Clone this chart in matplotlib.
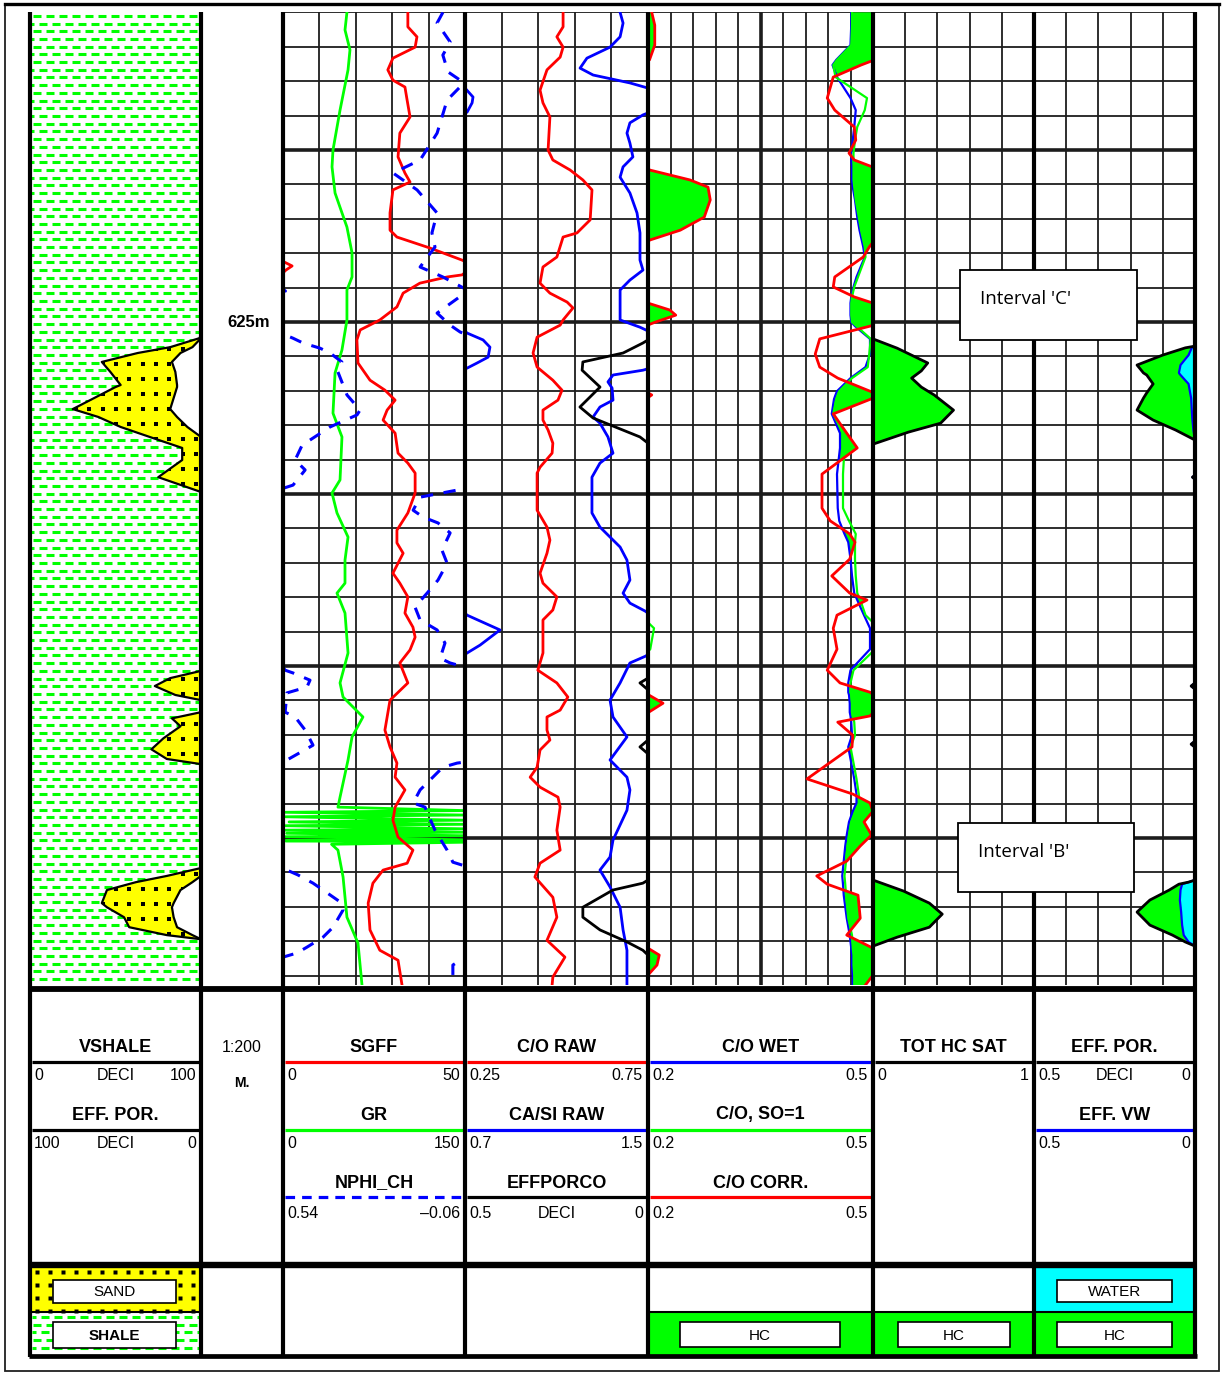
import numpy as np
import matplotlib
matplotlib.use("Agg")
import matplotlib.pyplot as plt
from matplotlib.collections import LineCollection
from matplotlib.patches import Rectangle
from matplotlib.transforms import TransformedPath

# ------------------------------------------------------------------ data
DEPTH_TOP, DEPTH_BOT = 616.0, 644.27        # metres, 1:200

# track 1: VSHALE (0..1) and EFF. POR. (1..0) on one depth grid
T1_DEPTH = np.array([616.0, 625.38, 625.47, 625.73, 625.90, 626.16, 626.45, 626.83, 626.89,
                     627.53, 627.76, 628.05, 628.34, 628.66, 629.01, 629.51, 629.94,
                     635.14, 635.35, 635.58, 635.84, 635.99,
                     636.34, 636.52, 636.75, 637.10, 637.42, 637.70, 637.85,
                     640.87, 641.10, 641.28, 641.51, 641.89, 642.01, 642.30, 642.59,
                     642.82, 642.94, 644.27])
VSHALE = np.array([1.0, 1.0, 0.99, 0.82, 0.63, 0.42, 0.47, 0.53, 0.50,
                   0.25, 0.40, 0.53, 0.70, 0.89, 0.89, 0.75, 1.0,
                   1.0, 0.82, 0.73, 0.85, 1.0,
                   1.0, 0.83, 0.88, 0.78, 0.71, 0.80, 1.0,
                   1.0, 0.80, 0.62, 0.45, 0.42, 0.45, 0.55, 0.58,
                   0.80, 1.0, 1.0])
EFF_POR_T1 = np.array([0.0, 0.0, 0.0, 0.05, 0.12, 0.17, 0.15, 0.14, 0.14,
                       0.18, 0.14, 0.08, 0.0, 0.0, 0.0, 0.0, 0.0,
                       0.0, 0.0, 0.0, 0.0, 0.0,
                       0.0, 0.0, 0.0, 0.0, 0.0, 0.0, 0.0,
                       0.0, 0.0, 0.05, 0.12, 0.16, 0.17, 0.16, 0.14,
                       0.05, 0.0, 0.0])

# track 3
GR_DEPTH = [616.0, 616.51, 617.09, 617.67, 618.84, 620.00, 620.49, 621.25, 622.24, 622.99,
            623.69, 624.07, 624.94, 625.81, 626.48, 627.65, 628.34, 629.59, 629.97, 630.55,
            631.25, 631.92, 632.59, 632.88, 633.46, 634.62, 635.49, 635.90, 636.48, 637.06,
            637.73, 638.81, 639.10, 639.20, 639.25, 639.33, 639.38, 639.48, 639.53, 639.60,
            639.64, 639.73, 639.77, 639.83, 639.86, 639.93, 639.96, 640.05, 640.08, 640.12,
            640.18, 640.35, 641.13, 642.30, 643.05, 644.27]
GR = [52.7, 51.1, 55.2, 53.6, 47.0, 41.2, 40.4, 42.9, 52.7, 56.9,
      56.9, 52.7, 52.7, 48.6, 42.9, 41.2, 48.6, 47.0, 40.4, 44.5,
      53.6, 51.1, 51.1, 44.5, 51.1, 53.6, 47.0, 49.5, 65.9, 56.9,
      53.6, 47.0, 45.3, 149, 2, 149, 2, 149, 5, 149,
      2, 149, 2, 149, 3, 149, 2, 149, 2, 149,
      40, 45.3, 49.5, 52.7, 61.8, 65.1]

SGFF_DEPTH = [616.0, 616.42, 616.71, 617.01, 617.33, 617.67, 617.97, 618.17, 618.55, 619.04,
              619.51, 620.20, 620.67, 620.93, 621.16, 621.83, 622.33, 622.53, 622.85, 623.20,
              623.28, 623.37, 623.49, 623.55, 623.63, 623.69, 623.87, 624.16, 624.56, 624.94,
              625.23, 625.52, 626.19, 626.69, 626.98, 627.27, 627.56, 627.85, 628.23, 628.81,
              629.10, 629.39, 629.97, 630.55, 631.05, 631.42, 631.72, 632.30, 632.59, 632.99,
              633.46, 633.87, 634.16, 634.53, 634.91, 635.49, 635.99, 636.86, 637.35, 637.82,
              638.23, 638.60, 639.10, 639.48, 639.97, 640.35, 640.73, 640.93, 641.31, 641.89,
              642.67, 643.26, 643.55, 644.27]
SGFF = [34.3, 34.3, 36.8, 36.3, 30.2, 28.8, 30.2, 33.5, 34.1, 34.9,
        32.1, 31.6, 33.5, 34.9, 30.2, 29.4, 29.4, 31.3, 40.4, 49.2,
        50.8, 52.5, 50.8, 50.2, 49.2, 45.1, 37.6, 33.0, 31.3, 26.6,
        21.2, 20.3, 20.6, 23.9, 28.0, 30.8, 28.6, 27.5, 30.8, 31.6,
        34.3, 36.3, 36.3, 34.3, 31.3, 31.3, 33.0, 30.2, 32.1, 34.3,
        33.5, 35.7, 36.3, 34.9, 32.1, 34.3, 29.4, 28.0, 29.4, 31.3,
        30.8, 33.5, 30.8, 30.2, 31.6, 35.7, 34.1, 27.5, 24.7, 23.4,
        23.9, 26.6, 31.6, 32.7]

NPHI_DEPTH = [616.0, 616.31, 616.86, 617.24, 617.73, 617.97, 618.11, 618.55, 619.51, 620.29,
              620.67, 621.16, 621.83, 622.41, 622.82, 623.40, 623.69, 624.01, 624.10, 624.22,
              624.74, 625.09, 625.29, 625.47, 625.61, 625.76, 625.90, 626.16, 626.45, 627.12,
              627.56, 627.70, 628.05, 628.43, 628.58, 629.01, 629.30, 629.74, 629.82, 629.88,
              630.09, 630.47, 630.67, 630.84, 631.13, 631.63, 632.01, 632.50, 632.88, 633.28,
              633.66, 633.95, 634.33, 634.77, 634.91, 635.03, 635.12, 635.20, 635.41, 635.61,
              635.78, 636.34, 636.48, 636.86, 637.30, 637.68, 637.79, 637.82, 637.94, 638.60,
              638.98, 639.10, 639.77, 640.35, 640.70, 640.81, 640.93, 641.07, 641.31, 641.51,
              641.89, 642.09, 642.59, 642.88, 643.17, 643.34, 643.46, 643.69, 644.27]
NPHI = [0.013, 0.032, -0.011, 0.013, -0.004, -0.044, -0.050, -0.001, 0.032, 0.088,
        0.177, 0.098, 0.032, 0.049, 0.039, 0.088, 0.013, -0.055, -0.068, -0.050,
        0.032, -0.011, -0.044, -0.093, -0.126, -0.182, -0.215, -0.254, -0.241, -0.271,
        -0.314, -0.304, -0.215, -0.149, -0.123, -0.100, -0.133, -0.093, -0.065, -0.037,
        0.088, 0.111, 0.078, 0.029, -0.011, 0.016, -0.001, 0.029, 0.065, 0.105,
        0.088, 0.032, 0.006, 0.022, -0.011, -0.060, -0.067, -0.093, -0.149, -0.139,
        -0.073, -0.067, -0.100, -0.133, -0.159, -0.083, -0.060, -0.034, 0.013, 0.088,
        0.111, 0.072, 0.039, -0.001, -0.020, -0.060, -0.073, -0.109, -0.159, -0.192,
        -0.254, -0.258, -0.225, -0.192, -0.139, -0.106, -0.060, -0.020, -0.020]

# track 4
CO_RAW_DEPTH = [616.0, 616.42, 616.71, 617.01, 617.30, 617.67, 618.26, 618.63, 619.04, 620.00,
                620.29, 620.58, 620.87, 621.16, 622.03, 622.41, 622.53, 623.11, 623.40, 623.87,
                624.16, 624.42, 624.59, 624.94, 625.09, 625.44, 625.90, 626.31, 626.69, 626.98,
                627.27, 627.56, 627.85, 628.14, 628.52, 628.81, 629.22, 629.39, 630.47, 630.96,
                631.34, 631.72, 632.30, 632.59, 632.99, 633.37, 633.66, 634.62, 635.12, 635.49,
                635.90, 636.28, 636.48, 636.86, 637.15, 637.44, 637.94, 638.23, 638.52, 638.81,
                639.10, 639.77, 640.35, 640.73, 641.13, 641.72, 642.30, 642.97, 643.46, 644.04,
                644.27]
CO_RAW = [0.518, 0.518, 0.501, 0.518, 0.510, 0.474, 0.455, 0.463, 0.482, 0.477,
          0.490, 0.537, 0.572, 0.597, 0.592, 0.556, 0.518, 0.501, 0.463, 0.455,
          0.482, 0.529, 0.545, 0.518, 0.510, 0.447, 0.436, 0.447, 0.490, 0.515,
          0.504, 0.463, 0.463, 0.477, 0.490, 0.488, 0.455, 0.447, 0.447, 0.474,
          0.482, 0.474, 0.455, 0.463, 0.501, 0.490, 0.463, 0.463, 0.449, 0.501,
          0.531, 0.510, 0.474, 0.474, 0.482, 0.455, 0.447, 0.428, 0.455, 0.504,
          0.510, 0.501, 0.510, 0.455, 0.441, 0.490, 0.501, 0.474, 0.523, 0.490,
          0.488]

CASI_DEPTH = [616.0, 616.31, 616.71, 617.01, 617.33, 617.62, 617.82, 618.05, 618.20, 618.46,
              618.63, 618.90, 618.98, 619.21, 619.51, 619.80, 620.20, 620.49, 620.79, 621.25,
              621.83, 622.41, 623.20, 623.49, 623.78, 624.07, 624.74, 624.94, 625.15, 625.26,
              625.32, 625.52, 625.73, 626.02, 626.19, 626.34, 626.40, 626.54, 626.74, 626.92,
              627.27, 627.47, 627.76, 627.94, 628.34, 628.81, 629.10, 629.51, 630.55, 630.96,
              631.25, 631.54, 631.92, 632.50, 632.88, 633.17, 633.40, 633.46, 633.52, 633.95,
              634.39, 634.62, 634.71, 634.91, 635.49, 635.99, 636.48, 637.06, 637.73, 638.23,
              638.60, 639.19, 640.06, 640.55, 640.93, 641.42, 642.01, 642.67, 643.26, 644.27]
CASI_RAW = [1.378, 1.391, 1.378, 1.334, 1.233, 1.203, 1.260, 1.421, 1.500, 1.535,
            1.531, 1.509, 1.478, 1.421, 1.408, 1.421, 1.434, 1.391, 1.378, 1.421,
            1.452, 1.465, 1.465, 1.478, 1.421, 1.378, 1.378, 1.378, 1.465, 1.500,
            1.509, 1.579, 1.609, 1.601, 1.553, 1.509, 1.478, 1.347, 1.325, 1.343,
            1.347, 1.290, 1.260, 1.290, 1.325, 1.347, 1.290, 1.255, 1.255, 1.290,
            1.334, 1.378, 1.408, 1.421, 1.391, 1.421, 1.487, 1.500, 1.509, 1.653,
            1.566, 1.509, 1.490, 1.421, 1.378, 1.334, 1.347, 1.408, 1.334, 1.408,
            1.421, 1.408, 1.347, 1.334, 1.290, 1.334, 1.378, 1.391, 1.408, 1.408]

EPC_DEPTH = [616.0, 625.52, 625.61, 625.90, 626.16, 626.40, 626.89, 627.47, 627.79, 628.34,
             628.52, 635.35, 635.49, 635.69, 637.15, 637.35, 637.55, 641.22, 641.31, 641.51,
             642.01, 642.30, 642.67, 643.02, 643.26, 643.40, 644.27]
EFFPORCO = [0.0, 0.0, 0.014, 0.068, 0.178, 0.180, 0.131, 0.186, 0.150, 0.022,
            0.0, 0.0, 0.022, 0.0, 0.0, 0.022, 0.0, 0.0, 0.014, 0.096,
            0.178, 0.178, 0.131, 0.057, 0.014, 0.0, 0.0]

# track 5: C/O WET, C/O SO=1, C/O CORR on one depth grid
T5_DEPTH = np.array([616.0, 616.37, 616.95, 617.38, 617.53, 617.88, 618.49, 618.84, 619.33, 619.71,
                     620.09, 620.29, 620.49, 620.58, 620.87, 621.08, 621.45, 621.95, 622.33, 622.62,
                     622.82, 623.11, 623.69, 623.98, 624.27, 624.45, 624.65, 624.80, 625.00, 625.12,
                     625.49, 625.93, 626.31, 626.63, 627.01, 627.12, 627.24, 627.67, 628.23, 628.66,
                     629.42, 630.41, 630.78, 631.16, 631.40, 631.89, 632.38, 632.88, 633.08, 633.52,
                     633.90, 634.51, 635.12, 635.49, 635.76, 635.84, 636.08, 636.34, 636.45, 636.63,
                     637.01, 637.35, 638.28, 638.72, 638.98, 639.22, 639.53, 639.91, 640.23, 640.67,
                     641.10, 641.34, 641.66, 642.33, 642.82, 643.20, 643.40, 643.69, 643.98, 644.27])
CO_WET = np.array([0.471, 0.471, 0.470, 0.451, 0.446, 0.452, 0.470, 0.477, 0.475, 0.473,
                   0.471, 0.471, 0.472, 0.472, 0.472, 0.473, 0.476, 0.479, 0.482, 0.485,
                   0.487, 0.489, 0.478, 0.474, 0.471, 0.470, 0.470, 0.470, 0.471, 0.476,
                   0.496, 0.496, 0.490, 0.470, 0.452, 0.450, 0.448, 0.445, 0.456, 0.456,
                   0.452, 0.453, 0.455, 0.462, 0.467, 0.470, 0.472, 0.475, 0.479, 0.488,
                   0.496, 0.496, 0.470, 0.467, 0.467, 0.468, 0.469, 0.469, 0.470, 0.471,
                   0.472, 0.467, 0.475, 0.478, 0.478, 0.473, 0.468, 0.465, 0.463, 0.461,
                   0.459, 0.460, 0.461, 0.465, 0.469, 0.471, 0.472, 0.472, 0.473, 0.473])
CO_SO1 = np.array([0.472, 0.472, 0.471, 0.452, 0.447, 0.450, 0.492, 0.489, 0.479, 0.476,
                   0.474, 0.474, 0.474, 0.474, 0.474, 0.475, 0.477, 0.481, 0.484, 0.487,
                   0.489, 0.490, 0.480, 0.475, 0.472, 0.471, 0.471, 0.471, 0.472, 0.478,
                   0.497, 0.495, 0.493, 0.472, 0.455, 0.453, 0.451, 0.447, 0.460, 0.462,
                   0.460, 0.460, 0.468, 0.477, 0.476, 0.476, 0.477, 0.479, 0.483, 0.490,
                   0.508, 0.503, 0.474, 0.470, 0.470, 0.471, 0.472, 0.472, 0.473, 0.475,
                   0.476, 0.470, 0.478, 0.481, 0.482, 0.477, 0.471, 0.468, 0.466, 0.464,
                   0.462, 0.463, 0.464, 0.467, 0.472, 0.473, 0.474, 0.474, 0.475, 0.475])
CO_CORR = np.array([0.505, 0.509, 0.509, 0.502, 0.484, 0.447, 0.439, 0.449, 0.475, 0.477,
                    0.468, 0.475, 0.499, 0.502, 0.556, 0.580, 0.583, 0.575, 0.543, 0.502,
                    0.495, 0.487, 0.449, 0.447, 0.475, 0.500, 0.529, 0.537, 0.510, 0.496,
                    0.429, 0.423, 0.429, 0.453, 0.496, 0.505, 0.497, 0.447, 0.465, 0.479,
                    0.432, 0.432, 0.443, 0.469, 0.476, 0.469, 0.445, 0.469, 0.492, 0.452,
                    0.447, 0.452, 0.439, 0.456, 0.496, 0.501, 0.520, 0.501, 0.496, 0.453,
                    0.473, 0.472, 0.412, 0.473, 0.496, 0.500, 0.488, 0.498, 0.483, 0.465,
                    0.425, 0.439, 0.480, 0.483, 0.465, 0.500, 0.515, 0.512, 0.500, 0.490])

# track 6
HCSAT_DEPTH = [616.0, 625.49, 625.76, 626.19, 626.42, 626.63, 626.89, 627.12, 627.56, 627.94,
               628.20, 628.55, 641.22, 641.54, 641.89, 642.21, 642.59, 642.88, 643.14, 644.27]
TOT_HC_SAT = [0.0, 0.0, 0.15, 0.34, 0.30, 0.24, 0.30, 0.38, 0.50, 0.42,
              0.22, 0.0, 0.0, 0.19, 0.35, 0.43, 0.35, 0.15, 0.0, 0.0]

# track 7: EFF. POR. and EFF. VW on one depth grid
T7_DEPTH = np.array([616.0, 625.61, 625.70, 625.75, 625.96, 626.25, 626.48, 626.54, 626.80, 627.06,
                     627.21, 627.56, 627.85, 628.14, 628.43, 629.45, 629.51, 629.57, 635.49, 635.58,
                     635.67, 637.18, 637.27, 637.36, 641.22, 641.28, 641.34, 641.51, 641.80, 642.15,
                     642.53, 642.82, 643.02, 643.14, 644.27])
EFF_POR = np.array([0.0, 0.0, 0.0, 0.03, 0.10, 0.18, 0.16, 0.15, 0.13, 0.15,
                    0.16, 0.18, 0.13, 0.06, 0.0, 0.0, 0.008, 0.0, 0.0, 0.012,
                    0.0, 0.0, 0.012, 0.0, 0.0, 0.02, 0.05, 0.08, 0.14, 0.18,
                    0.14, 0.07, 0.03, 0.0, 0.0])
EFF_VW = np.array([0.0, 0.0, 0.0, 0.01, 0.02, 0.045, 0.05, 0.045, 0.02, 0.015,
                   0.012, 0.01, 0.008, 0.005, 0.0, 0.0, 0.008, 0.0, 0.0, 0.012,
                   0.0, 0.0, 0.012, 0.0, 0.0, 0.02, 0.04, 0.045, 0.047, 0.043,
                   0.04, 0.035, 0.02, 0.0, 0.0])

# ------------------------------------------------------------------ figure
W, H = 1225, 1373
LOG_Y0, LOG_Y1 = 12.4, 985
EDGES = [30, 201, 283, 465, 648, 873, 1034, 1195]
LIME, RED, BLUE, CYAN, YEL = "#00ff00", "#ff0000", "#0000ff", "#00ffff", "#ffff00"
GRIDC = "#1c1c1c"
FONT = ["Liberation Sans", "DejaVu Sans"]

fig = plt.figure(figsize=(W / 100, H / 100), dpi=100)


def px_axes(x0, x1, y0, y1, zorder=0):
    ax = fig.add_axes([x0 / W, 1 - y1 / H, (x1 - x0) / W, (y1 - y0) / H], zorder=zorder)
    ax.axis("off")
    return ax


def log_track(i, lo, hi):
    ax = px_axes(EDGES[i], EDGES[i + 1], LOG_Y0, LOG_Y1)
    ax.set_xlim(lo, hi)
    ax.set_ylim(DEPTH_BOT, DEPTH_TOP)
    return ax


def grid(ax, ndiv, thick_every=None):
    lo, hi = ax.get_xlim()
    for d in range(616, 645):
        ax.axhline(d, color=GRIDC, lw=2.6 if d % 5 == 0 else 1.3, zorder=0)
    for k, x in enumerate(np.linspace(lo, hi, ndiv + 1)[1:-1], start=1):
        thick = thick_every is not None and k % thick_every == 0
        ax.axvline(x, color=GRIDC, lw=2.6 if thick else 1.3, zorder=0)


def scale(ax, lo, hi):
    a = ax.twiny()
    a.set_xlim(lo, hi)
    a.axis("off")
    return a


def wrapped(a, depth, vals, **kw):
    # backup trace: values past the right end re-enter from the left
    lo, hi = a.get_xlim()
    v = np.asarray(vals, float)
    a.plot(v, depth, **kw)
    a.plot(v - (hi - lo), depth, **kw)


# track 1 -- lithology
ax1 = log_track(0, 0, 1)
segs = []
for k, yv in enumerate(np.arange(DEPTH_TOP + 0.1, DEPTH_BOT, 0.224)):
    x = -0.06 + (0.038 if k % 2 else 0.0)
    while x < 1.0:
        segs.append([(x, yv), (x + 0.047, yv)])
        x += 0.076
ax1.add_collection(LineCollection(segs, colors=LIME, linewidths=2.2, zorder=1))
sand = ax1.fill_betweenx(T1_DEPTH, VSHALE, 1 - EFF_POR_T1, color=YEL, lw=0, zorder=2)
ax1.fill_betweenx(T1_DEPTH, 1 - EFF_POR_T1, 1, color="white", lw=0, zorder=2)
gx, gy = np.meshgrid(np.arange(0.035, 1.0, 0.078), np.arange(DEPTH_TOP + 0.2, DEPTH_BOT, 0.436))
dots = ax1.scatter(gx.ravel(), gy.ravel(), s=11, marker="s", color="k", lw=0, zorder=3)
dots.set_clip_path(TransformedPath(sand.get_paths()[0], ax1.transData))
ax1.plot(VSHALE, T1_DEPTH, color="k", lw=1.6, zorder=4)
ax1.plot(1 - EFF_POR_T1, T1_DEPTH, color="k", lw=1.6, zorder=4)

# track 2 -- depth
ax2 = log_track(1, 0, 1)
ax2.text(0.84, 625.0, "625m", ha="right", va="center", fontsize=12,
         fontweight="bold", family=FONT)

# track 3
ax3 = log_track(2, 0, 1)
grid(ax3, 5)
wrapped(scale(ax3, 0, 150), GR_DEPTH, GR, color=LIME, lw=2.0)
wrapped(scale(ax3, 0, 50), SGFF_DEPTH, SGFF, color=RED, lw=2.0)
wrapped(scale(ax3, 0.54, -0.06), NPHI_DEPTH, NPHI, color=BLUE, lw=2.2, ls=(0, (4, 3.5)))

# track 4
ax4 = log_track(3, 0, 1)
grid(ax4, 5)
wrapped(scale(ax4, 0.25, 0.75), CO_RAW_DEPTH, CO_RAW, color=RED, lw=2.0)
wrapped(scale(ax4, 0.7, 1.5), CASI_DEPTH, CASI_RAW, color=BLUE, lw=2.0)
scale(ax4, 0.5, 0.0).plot(EFFPORCO, EPC_DEPTH, color="k", lw=2.0)

# track 5
ax5 = log_track(4, 0.2, 0.5)
grid(ax5, 10, thick_every=5)
a5 = scale(ax5, 0.2, 0.5)
a5.fill_betweenx(T5_DEPTH, CO_WET, CO_CORR, where=CO_CORR > CO_WET,
                 interpolate=True, color=LIME, lw=0)
a5.fill_betweenx(T5_DEPTH, 0.2, CO_CORR - 0.3, where=CO_CORR > 0.5,
                 interpolate=True, color=LIME, lw=0)
a5.plot(CO_WET, T5_DEPTH, color=BLUE, lw=1.6)
wrapped(a5, T5_DEPTH, CO_SO1, color=LIME, lw=1.6)
wrapped(a5, T5_DEPTH, CO_CORR, color=RED, lw=2.0)

# track 6
ax6 = log_track(5, 0, 1)
grid(ax6, 5)
a6 = scale(ax6, 0, 1)
a6.fill_betweenx(HCSAT_DEPTH, 0, TOT_HC_SAT, color=LIME, lw=0)
a6.plot(TOT_HC_SAT, HCSAT_DEPTH, color="k", lw=2.0)

# track 7
ax7 = log_track(6, 0.5, 0.0)
grid(ax7, 5)
a7 = scale(ax7, 0.5, 0.0)
a7.fill_betweenx(T7_DEPTH, EFF_VW, EFF_POR, color=LIME, lw=0)
a7.fill_betweenx(T7_DEPTH, 0, EFF_VW, color=CYAN, lw=0)
a7.plot(EFF_VW, T7_DEPTH, color=BLUE, lw=1.6)
a7.plot(EFF_POR, T7_DEPTH, color="k", lw=2.0)

# ------------------------------------------------------------------ frame, header, legend
cv = fig.add_axes([0, 0, 1, 1], zorder=10)
cv.set_xlim(0, W)
cv.set_ylim(H, 0)
cv.axis("off")

cv.add_patch(Rectangle((4.5, 3.5), 1214, 1367, fill=False, ec="#202020", lw=1.3))
cv.plot([4.5, 1218.5], [3.5, 3.5], color="k", lw=2.4)
for x in EDGES:
    cv.plot([x, x], [LOG_Y0, 1357], color="k", lw=3.0, solid_capstyle="butt", zorder=3)
for y, lw in ((989, 4.2), (1265, 4.6), (1356, 3.4)):
    cv.plot([EDGES[0] - 1.5, EDGES[-1] + 1.5], [y, y], color="k", lw=lw,
            solid_capstyle="butt", zorder=3)


def title(x0, x1, y, s):
    cv.text((x0 + x1) / 2, y, s, ha="center", va="center", fontsize=13,
            fontweight="bold", family=FONT)


def hline(x0, x1, y, color, ls="-"):
    cv.plot([x0 + 2, x1 - 2], [y, y], color=color, lw=2.3, ls=ls, solid_capstyle="butt")


def rng(x0, x1, y, left, right, mid=None):
    cv.text(x0 + 4, y, left, ha="left", va="center", fontsize=11.5, family=FONT)
    cv.text(x1 - 5, y, right, ha="right", va="center", fontsize=11.5, family=FONT)
    if mid:
        cv.text((x0 + x1) / 2, y, mid, ha="center", va="center", fontsize=11.5, family=FONT)


ROW1, ROW2, ROW3 = (1048, 1062, 1076), (1115, 1130, 1143), (1183, 1197, 1213)
HEADER = [
    (0, [("VSHALE", "k", "-", "0", "100", "DECI"), ("EFF. POR.", "k", "-", "100", "0", "DECI")]),
    (2, [("SGFF", RED, "-", "0", "50", None), ("GR", LIME, "-", "0", "150", None),
         ("NPHI_CH", BLUE, (0, (3, 2.2)), "0.54", "\u20130.06", None)]),
    (3, [("C/O RAW", RED, "-", "0.25", "0.75", None), ("CA/SI RAW", BLUE, "-", "0.7", "1.5", None),
         ("EFFPORCO", "k", "-", "0.5", "0", "DECI")]),
    (4, [("C/O WET", BLUE, "-", "0.2", "0.5", None), ("C/O, SO=1", LIME, "-", "0.2", "0.5", None),
         ("C/O CORR.", RED, "-", "0.2", "0.5", None)]),
    (5, [("TOT HC SAT", "k", "-", "0", "1", None)]),
    (6, [("EFF. POR.", "k", "-", "0.5", "0", "DECI"), ("EFF. VW", BLUE, "-", "0.5", "0", None)]),
]
for i, rows in HEADER:
    x0, x1 = EDGES[i], EDGES[i + 1]
    for (name, col, ls, lft, rgt, mid), (yt, yl, yr) in zip(rows, (ROW1, ROW2, ROW3)):
        title(x0, x1, yt, name)
        hline(x0, x1, yl, col, ls)
        rng(x0, x1, yr, lft, rgt, mid)
cv.text(242, 1048, "1:200", ha="center", va="center", fontsize=11.5, family=FONT)
cv.text(242, 1083, "M.", ha="center", va="center", fontsize=10, fontweight="bold", family=FONT)

# legend row
cv.add_patch(Rectangle((31, 1268), 169, 44, fc=YEL, ec="none", zorder=1))
for yy in np.arange(1272, 1312, 13):
    for xx in np.arange(37, 200, 13):
        cv.plot(xx, yy, marker="s", ms=3.2, color="k", mec="none", zorder=2)
for k, yy in enumerate(np.arange(1317, 1356, 7.7)):
    xx = 28 + (5 if k % 2 else 0)
    while xx < 200:
        cv.plot([max(xx, 32), min(xx + 8, 199)], [yy, yy], color=LIME, lw=2.2,
                solid_capstyle="butt", zorder=2)
        xx += 13
for x0, x1 in ((648, 873), (873, 1034), (1034, 1195)):
    cv.add_patch(Rectangle((x0, 1312), x1 - x0, 44, fc=LIME, ec="none", zorder=1))
cv.add_patch(Rectangle((1034, 1268), 161, 44, fc=CYAN, ec="none", zorder=1))
for x0, x1 in ((30, 201), (648, 873), (873, 1034), (1034, 1195)):
    cv.plot([x0, x1], [1312, 1312], color="k", lw=1.5, zorder=2.5)
for (x0, y0, x1, y1, s) in ((53, 1280, 176, 1303, "SAND"), (53, 1322, 176, 1348, "SHALE"),
                            (680, 1322, 840, 1347, "HC"), (898, 1322, 1010, 1347, "HC"),
                            (1057, 1280, 1172, 1302, "WATER"), (1057, 1322, 1172, 1347, "HC")):
    cv.add_patch(Rectangle((x0, y0), x1 - x0, y1 - y0, fc="white", ec="k", lw=1.2, zorder=5))
    cv.text((x0 + x1) / 2, (y0 + y1) / 2 + 1, s, ha="center", va="center", fontsize=11,
            family=FONT, fontweight="bold" if s == "SHALE" else "normal", zorder=6)

# interval call-outs
for (x0, y0, x1, y1, s) in ((960, 270, 1137, 340, "Interval 'C'"),
                            (958, 823, 1134, 892, "Interval 'B'")):
    cv.add_patch(Rectangle((x0, y0), x1 - x0, y1 - y0, fc="white", ec="k", lw=1.3, zorder=5))
    cv.text(x0 + 20, y0 + 29, s, ha="left", va="center", fontsize=13.5,
            family=["Open Sans", "DejaVu Sans"], zorder=6)

fig.savefig("out.png", dpi=100)
